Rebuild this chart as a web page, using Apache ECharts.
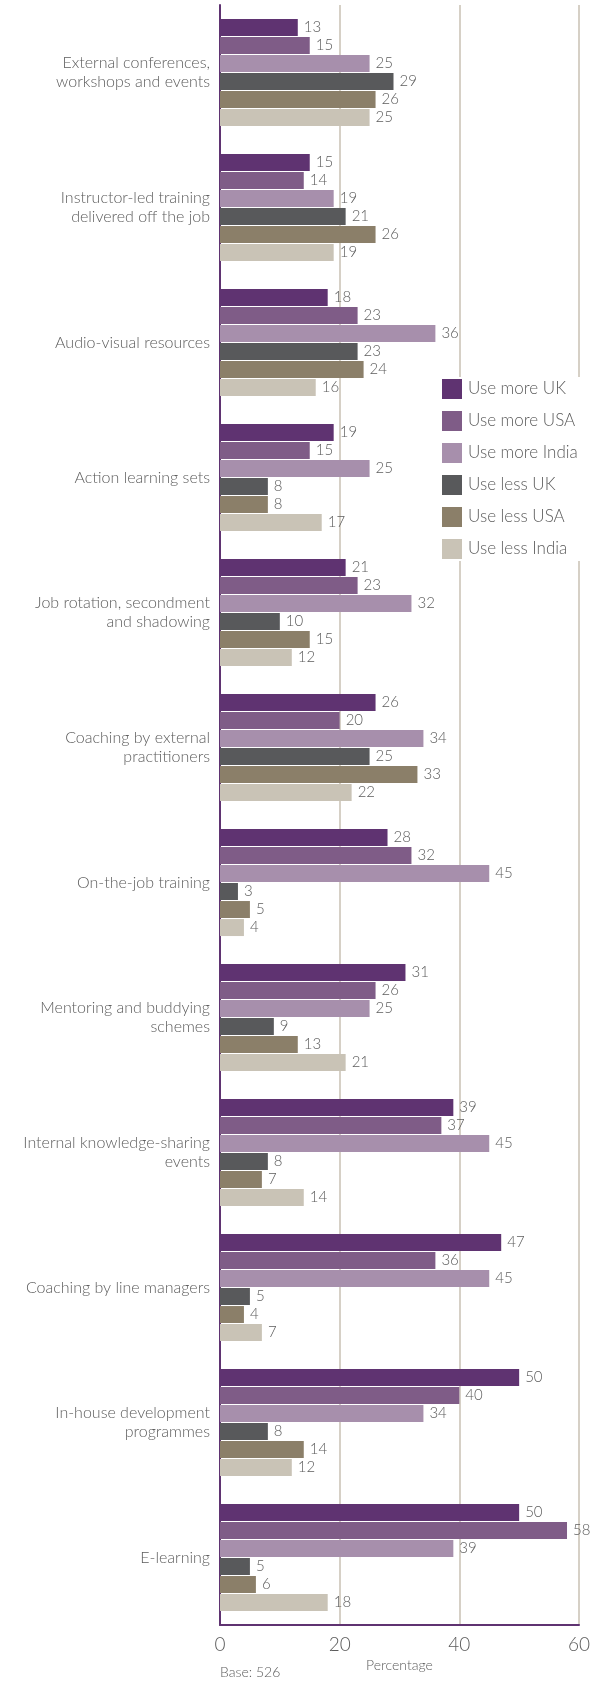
<!DOCTYPE html>
<html>
<head>
<meta charset="utf-8">
<script src="https://cdn.jsdelivr.net/npm/echarts@6/dist/echarts.min.js"></script>
<style>
  html, body { margin: 0; padding: 0; background: #fff; }
  #chart { width: 593px; height: 1681px; }
</style>
</head>
<body>
<div id="chart"></div>
<script>
// Learning methods, listed top to bottom
const categories = [
  'External conferences,\nworkshops and events',
  'Instructor-led training\ndelivered off the job',
  'Audio-visual resources',
  'Action learning sets',
  'Job rotation, secondment\nand shadowing',
  'Coaching by external\npractitioners',
  'On-the-job training',
  'Mentoring and buddying\nschemes',
  'Internal knowledge-sharing\nevents',
  'Coaching by line managers',
  'In-house development\nprogrammes',
  'E-learning'
];

const seriesNames = [
  'Use more UK', 'Use more USA', 'Use more India',
  'Use less UK', 'Use less USA', 'Use less India'
];

const useMoreUK    = [13, 15, 18, 19, 21, 26, 28, 31, 39, 47, 50, 50];
const useMoreUSA   = [15, 14, 23, 15, 23, 20, 32, 26, 37, 36, 40, 58];
const useMoreIndia = [25, 19, 36, 25, 32, 34, 45, 25, 45, 45, 34, 39];
const useLessUK    = [29, 21, 23, 8, 10, 25, 3, 9, 8, 5, 8, 5];
const useLessUSA   = [26, 26, 24, 8, 15, 33, 5, 13, 7, 4, 14, 6];
const useLessIndia = [25, 19, 16, 17, 12, 22, 4, 21, 14, 7, 12, 18];

const xTicks = [0, 20, 40, 60];

const palette = ['#5f3371', '#7f5c87', '#a78fac', '#58595b', '#8b7f69', '#c9c3b6'];
const seriesData = [useMoreUK, useMoreUSA, useMoreIndia, useLessUK, useLessUSA, useLessIndia];

const FONT = 'Lato, "Open Sans", sans-serif';
const WEIGHT = 300;
const TEXT = '#5c5c5c';

const chart = echarts.init(document.getElementById('chart'), null, { renderer: 'canvas' });

chart.setOption({
  animation: false,
  textStyle: { fontFamily: FONT, fontWeight: WEIGHT },
  title: {
    text: 'Base: 526',
    left: 220,
    top: 1665,
    padding: 0,
    textStyle: { fontSize: 14, fontWeight: WEIGHT, color: TEXT, fontFamily: FONT }
  },
  legend: {
    data: seriesNames,
    orient: 'vertical',
    left: 442,
    top: 377,
    padding: [2, 4, 2, 0],
    backgroundColor: '#ffffff',
    itemWidth: 20,
    itemHeight: 20,
    itemGap: 12,
    icon: 'rect',
    textStyle: { fontSize: 17, fontWeight: WEIGHT, color: TEXT, fontFamily: FONT, padding: [0, 0, 0, 1] }
  },
  grid: { left: 220, right: 13, top: 5, bottom: 56, containLabel: false },
  xAxis: {
    type: 'value',
    min: xTicks[0],
    max: xTicks[xTicks.length - 1],
    interval: 20,
    name: 'Percentage',
    nameLocation: 'middle',
    nameGap: 29,
    nameTextStyle: { fontSize: 14, fontWeight: WEIGHT, color: TEXT, fontFamily: FONT },
    axisLine: { show: true, lineStyle: { color: '#5f3371', width: 2 } },
    axisTick: { show: false },
    axisLabel: { fontSize: 19, fontWeight: WEIGHT, color: TEXT, margin: 10, fontFamily: FONT },
    splitLine: { show: true, lineStyle: { color: '#c9c1b3', width: 1.5 } }
  },
  yAxis: {
    type: 'category',
    data: categories,
    inverse: true,
    axisLine: { show: true, lineStyle: { color: '#5f3371', width: 2 } },
    axisTick: { show: false },
    axisLabel: {
      fontSize: 16, fontWeight: WEIGHT, color: TEXT, margin: 10, lineHeight: 19,
      align: 'right', fontFamily: FONT
    },
    splitLine: { show: false }
  },
  series: seriesNames.map((name, i) => ({
    name: name,
    type: 'bar',
    data: seriesData[i],
    barWidth: 17,
    barGap: '6%',
    itemStyle: { color: palette[i] },
    label: {
      show: true,
      position: 'right',
      distance: 6,
      fontSize: 15,
      fontWeight: WEIGHT,
      color: TEXT,
      fontFamily: FONT
    }
  }))
});
</script>
</body>
</html>
